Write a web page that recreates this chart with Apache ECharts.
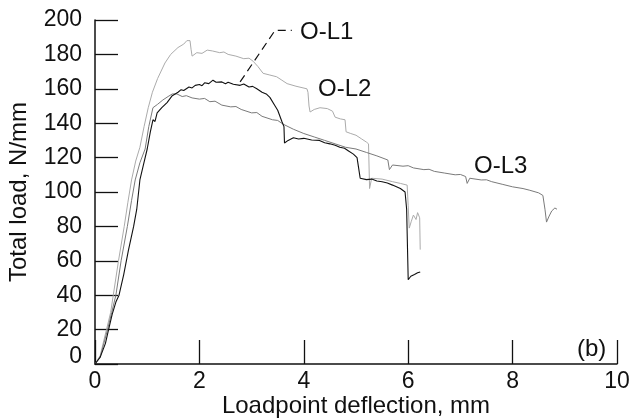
<!DOCTYPE html>
<html><head><meta charset="utf-8">
<script src="https://cdn.jsdelivr.net/npm/echarts@6/dist/echarts.min.js"></script>
<style>html,body{margin:0;padding:0;background:#fff}#c{width:632px;height:419px}</style>
</head><body><div id="c"></div>
<script>
var xTicks = [0, 2, 4, 6, 8, 10];
var yTicks = [0, 20, 40, 60, 80, 100, 120, 140, 160, 180, 200];
var seriesNames = ['O-L1', 'O-L2', 'O-L3'];

var oL1 = [[0,0],[0.1,4],[0.2,12],[0.26,20],[0.33,29],[0.4,36],[0.46,40],[0.55,52],[0.64,66],[0.74,80],[0.8,90],[0.86,107],[0.93,116],[1.0,125],[1.06,135],[1.11,142],[1.15,141],[1.19,146],[1.28,149],[1.38,152],[1.48,156],[1.59,158],[1.65,159.5],[1.7,159],[1.8,161],[1.86,160.5],[1.92,162],[2.0,162.5],[2.05,161.8],[2.1,163.5],[2.18,163],[2.26,165],[2.32,163.8],[2.43,164],[2.5,163],[2.55,163.8],[2.65,162.6],[2.78,162],[2.85,162.8],[2.95,161],[3.02,161.4],[3.1,160],[3.2,158],[3.28,157],[3.35,155],[3.45,150],[3.5,147.5],[3.58,141],[3.62,138],[3.63,128.5],[3.7,130],[3.8,131.5],[3.9,130.8],[4.0,131.2],[4.15,130.2],[4.3,130],[4.4,128.6],[4.5,128],[4.6,127.2],[4.69,126],[4.78,125.4],[4.85,124],[4.95,122],[5.02,120],[5.05,114],[5.08,108],[5.11,108],[5.2,107.2],[5.3,107.5],[5.4,106.4],[5.5,106],[5.6,105.2],[5.7,104],[5.85,102],[5.94,100],[5.97,90],[6.0,49],[6.05,51],[6.12,52],[6.18,53],[6.23,53.5]];

var oL2 = [[0,0],[0.1,5],[0.22,20],[0.3,30],[0.35,40],[0.45,60],[0.56,80],[0.63,94],[0.7,107],[0.78,118],[0.86,126],[0.94,138],[1.02,149],[1.1,158],[1.2,166],[1.34,175],[1.45,180],[1.59,184],[1.7,186],[1.76,188],[1.82,188],[1.84,183],[1.86,179],[1.95,181],[2.05,180.6],[2.15,182.5],[2.25,182],[2.39,181],[2.47,181.4],[2.55,180],[2.7,179],[2.85,177.5],[2.95,177.8],[3.03,176],[3.12,173],[3.22,169],[3.35,168],[3.48,167],[3.58,165],[3.68,163],[3.85,161.5],[4.06,160],[4.08,158],[4.1,150],[4.12,146.5],[4.2,148],[4.31,149],[4.45,148.5],[4.55,147],[4.6,143.5],[4.7,142.5],[4.79,142],[4.81,135],[4.9,134],[5.0,133],[5.1,131],[5.2,129],[5.24,128],[5.26,102],[5.3,108],[5.5,107.5],[5.7,106],[5.85,105],[5.98,104],[6.0,92],[6.02,79],[6.06,83],[6.1,86.6],[6.15,84],[6.18,88],[6.22,85],[6.23,66.5]];

var oL3 = [[0,0],[0.1,4],[0.24,20],[0.32,30],[0.4,40],[0.5,60],[0.62,80],[0.7,95],[0.77,107],[0.86,117],[0.96,125],[1.03,138],[1.11,149],[1.2,151],[1.3,153.5],[1.4,155.5],[1.48,157],[1.57,157],[1.67,155.5],[1.75,156],[1.86,154.7],[2.0,154],[2.1,154.4],[2.2,152.5],[2.3,152.8],[2.43,150.5],[2.6,149.5],[2.7,149.7],[2.8,148],[3.0,146],[3.1,146.2],[3.2,144],[3.4,142],[3.5,141.6],[3.6,139.5],[3.8,136.5],[4.0,134],[4.2,132],[4.4,130],[4.6,128],[4.8,126],[5.0,125],[5.2,123],[5.4,121],[5.61,118.6],[5.64,113],[5.7,115.7],[5.9,115],[6.0,115.3],[6.1,114],[6.3,113],[6.4,113.2],[6.5,112],[6.7,111],[6.9,110],[7.0,110.2],[7.1,109],[7.13,105],[7.18,108],[7.4,107],[7.5,107.1],[7.6,106],[7.8,104.5],[8.0,103],[8.2,102],[8.33,101],[8.5,99.5],[8.58,98],[8.62,90],[8.65,82.5],[8.7,86],[8.75,89],[8.81,90.7],[8.85,90]];

var leaderL1 = [[2.78,164],[3.45,194],[3.77,194]];

var FONT = 'Liberation Sans, Arial, sans-serif';
var chart = echarts.init(document.getElementById('c'), null, {renderer:'canvas'});

function lineSeries(name, data, color, w) {
  return {name:name, type:'line', data:data, showSymbol:false, symbol:'none', animation:false,
    lineStyle:{color:color, width:w}, itemStyle:{color:color}, z:3};
}

var option = {
  animation:false,
  backgroundColor:'#fff',
  grid:{left:95, right:15, top:20, bottom:55, containLabel:false, outerBoundsMode:'none'},
  xAxis:{type:'value', min:xTicks[0], max:xTicks[xTicks.length-1], interval:2,
    name:'Loadpoint deflection, mm', nameLocation:'middle', nameGap:30, nameMoveOverlap:false,
    nameTextStyle:{fontFamily:FONT, fontSize:24, color:'#111'},
    axisLine:{show:true, lineStyle:{color:'#111', width:1.5}},
    axisTick:{show:true, inside:true, length:24, lineStyle:{color:'#111', width:1.3}},
    axisLabel:{fontFamily:FONT, fontSize:23, color:'#111', margin:6},
    splitLine:{show:false}},
  yAxis:{type:'value', min:yTicks[0], max:yTicks[yTicks.length-1], interval:20,
    name:'Total load, N/mm', nameLocation:'middle', nameGap:64, nameMoveOverlap:false,
    nameTextStyle:{fontFamily:FONT, fontSize:24, color:'#111'},
    axisLine:{show:true, lineStyle:{color:'#111', width:1.5}},
    axisTick:{show:true, inside:true, length:23, lineStyle:{color:'#111', width:1.3}},
    axisLabel:{fontFamily:FONT, fontSize:23, color:'#111', margin:13,
      formatter:function(v){ return v === 0 ? '{z|0}' : String(v); },
      rich:{z:{fontFamily:FONT, fontSize:23, color:'#111', padding:[0,0,14,0]}}},
    splitLine:{show:false}},
  series:[
    lineSeries(seriesNames[1], oL2, '#ababab', 1),
    lineSeries(seriesNames[2], oL3, '#7a7a7a', 1),
    lineSeries(seriesNames[0], oL1, '#111111', 1.1),
    {type:'line', data:leaderL1, showSymbol:false, symbol:'none', animation:false,
      lineStyle:{color:'#111', width:1.2, type:[8,5]}, z:4}
  ],
  graphic:[
    {type:'text', left:300, top:20, style:{text:seriesNames[0], font:'24px '+FONT, fill:'#111'}},
    {type:'text', left:318, top:77, style:{text:seriesNames[1], font:'24px '+FONT, fill:'#111'}},
    {type:'text', left:474, top:154, style:{text:seriesNames[2], font:'24px '+FONT, fill:'#111'}},
    {type:'text', left:577, top:337, style:{text:'(b)', font:'24px '+FONT, fill:'#111'}}
  ]
};
chart.setOption(option);
</script>
</body></html>
